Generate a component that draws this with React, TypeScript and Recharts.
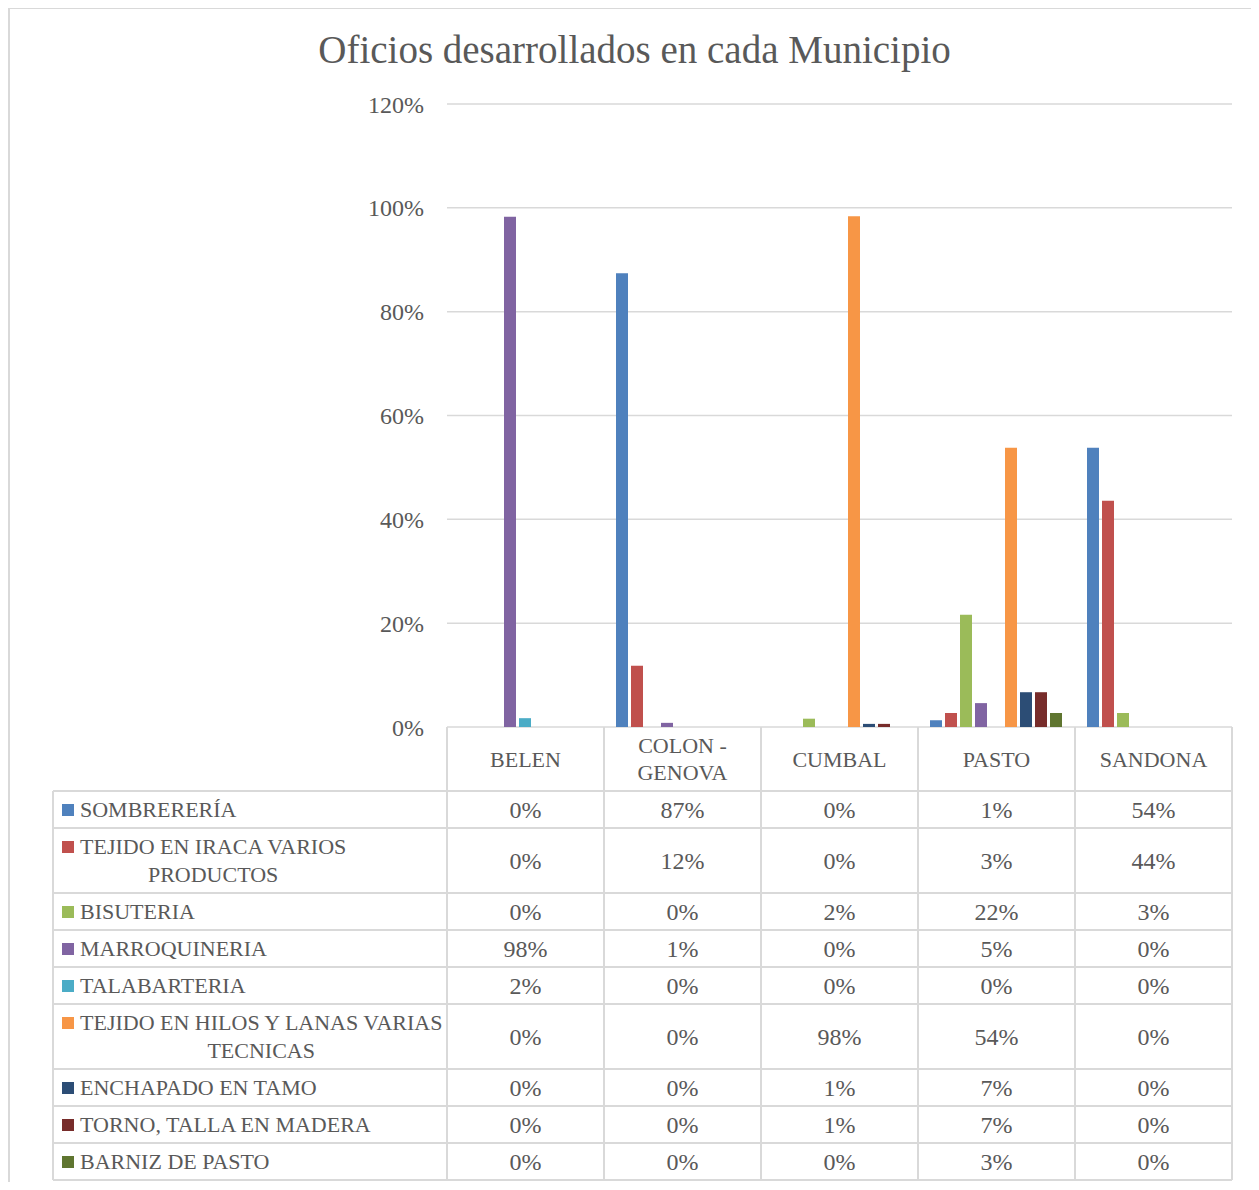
import React from 'react'
import { BarChart, Bar, XAxis, YAxis, CartesianGrid } from 'recharts'

// municipios (columns of the data table)
const MUNICIPIOS = ['BELEN', 'COLON - GENOVA', 'CUMBAL', 'PASTO', 'SANDONA']

// oficios (series / rows of the data table)
const OFICIOS = [
  'SOMBRERERÍA',
  'TEJIDO EN IRACA VARIOS PRODUCTOS',
  'BISUTERIA',
  'MARROQUINERIA',
  'TALABARTERIA',
  'TEJIDO EN HILOS Y LANAS VARIAS TECNICAS',
  'ENCHAPADO EN TAMO',
  'TORNO, TALLA EN MADERA',
  'BARNIZ DE PASTO',
]

const COLORS = [
  '#4F81BD', '#C0504D', '#9BBB59', '#8064A2', '#4BACC6',
  '#F79646', '#2C4D75', '#772C2A', '#5F7530',
]

// share of artisans per oficio, by municipio
const SOMBRERERIA = [0, 0.874, 0, 0.013, 0.538]
const TEJIDO_IRACA = [0, 0.118, 0, 0.027, 0.436]
const BISUTERIA = [0, 0, 0.016, 0.216, 0.027]
const MARROQUINERIA = [0.983, 0.008, 0, 0.046, 0]
const TALABARTERIA = [0.017, 0, 0, 0, 0]
const TEJIDO_HILOS = [0, 0, 0.984, 0.538, 0]
const ENCHAPADO = [0, 0, 0.006, 0.067, 0]
const TORNO = [0, 0, 0.006, 0.067, 0]
const BARNIZ = [0, 0, 0, 0.027, 0]

const SERIES = [
  SOMBRERERIA, TEJIDO_IRACA, BISUTERIA, MARROQUINERIA, TALABARTERIA,
  TEJIDO_HILOS, ENCHAPADO, TORNO, BARNIZ,
]

const Y_TICKS = [0, 0.2, 0.4, 0.6, 0.8, 1, 1.2]

const data = MUNICIPIOS.map((m, i) => {
  const row: Record<string, string | number> = { name: m }
  SERIES.forEach((s, k) => { row['s' + k] = s[i] })
  return row
})

// layout
const W = 1243
const H = 1175
const PLOT_L = 439
const PLOT_R = 1224
const PLOT_T = 97
const PLOT_B = 720
const HEADER_H = 64
const LEG_L = 45
const TEXT = '#595959'
const LINE = '#D9D9D9'
const FONT = "'Liberation Serif', 'Times New Roman', serif"
const FS_NUM = 24
const FS_LABEL = 22

const pct = (v: number) => Math.round(v * 100) + '%'

function wrap(text: string, maxChars: number) {
  const lines: string[] = []
  let cur = ''
  text.split(' ').forEach((w) => {
    const next = cur ? cur + ' ' + w : w
    if (next.length > maxChars && cur) {
      lines.push(cur)
      cur = w
    } else cur = next
  })
  if (cur) lines.push(cur)
  return lines
}

const LABEL_LINES = OFICIOS.map((o) => wrap(o, 30))
const ROW_H = LABEL_LINES.map((l) => (l.length > 1 ? 65 : 37))
const ROW_TOP: number[] = []
ROW_H.reduce((acc, h) => { ROW_TOP.push(acc); return acc + h }, PLOT_B + HEADER_H)
const TABLE_B = ROW_TOP[ROW_TOP.length - 1] + ROW_H[ROW_H.length - 1]

function TableColumn(props: any) {
  const { x, y, payload } = props
  const i = payload.index
  const band = (PLOT_R - PLOT_L) / MUNICIPIOS.length
  const left = x - band / 2
  const right = x + band / 2
  const head = wrap(String(payload.value), 9)
  const headMid = y + HEADER_H / 2
  return (
    <g fontFamily={FONT} fill={TEXT}>
      {i === 0 && <line x1={left} x2={left} y1={y} y2={TABLE_B} stroke={LINE} strokeWidth={2} />}
      {i === 0 && <line x1={LEG_L} x2={LEG_L} y1={ROW_TOP[0]} y2={TABLE_B} stroke={LINE} strokeWidth={2} />}
      <line x1={right} x2={right} y1={y} y2={TABLE_B} stroke={LINE} strokeWidth={2} />
      {ROW_TOP.concat([TABLE_B]).map((ty, k) => (
        <line key={'h' + k} x1={i === 0 ? LEG_L : left} x2={right} y1={ty} y2={ty} stroke={LINE} strokeWidth={2} />
      ))}
      {head.map((l, k) => (
        <text key={'t' + k} x={x} y={headMid + (k - (head.length - 1) / 2) * 27} fontSize={FS_LABEL}
          textAnchor="middle" dominantBaseline="central">{l}</text>
      ))}
      {SERIES.map((s, k) => (
        <text key={'v' + k} x={x} y={ROW_TOP[k] + ROW_H[k] / 2} fontSize={FS_NUM}
          textAnchor="middle" dominantBaseline="central">{pct(s[i])}</text>
      ))}
    </g>
  )
}

export default function App() {
  return (
    <div style={{ position: 'relative', width: W, height: H, marginTop: -1, fontFamily: FONT }}>
      <div style={{ position: 'absolute', left: 0, top: 0, width: W, height: H,
        borderTop: `2px solid ${LINE}`, borderLeft: `2px solid ${LINE}`, boxSizing: 'border-box' }} />
      <div style={{ position: 'absolute', left: 0, top: 23, width: 1253, textAlign: 'center',
        fontSize: 39, lineHeight: 1, color: TEXT }}>
        Oficios desarrollados en cada Municipio
      </div>
      <BarChart width={W} height={H} data={data}
        margin={{ top: PLOT_T, right: W - PLOT_R, bottom: 0, left: 0 }}
        barCategoryGap={12} barGap={3}>
        <CartesianGrid vertical={false} stroke={LINE} strokeWidth={1.5} />
        <YAxis domain={[0, 1.2]} ticks={Y_TICKS} width={PLOT_L} axisLine={false} tickLine={false}
          tickMargin={17} tickFormatter={pct}
          tick={{ fontFamily: FONT, fontSize: FS_NUM, fill: TEXT }} />
        <XAxis dataKey="name" height={H - PLOT_B} axisLine={false} tickLine={false}
          tickSize={0} tickMargin={0} interval={0} tick={<TableColumn />} />
        {SERIES.map((_, k) => (
          <Bar key={k} dataKey={'s' + k} fill={COLORS[k]} isAnimationActive={false} />
        ))}
      </BarChart>
      {OFICIOS.map((o, k) => (
        <div key={o} style={{ position: 'absolute', left: 54, top: ROW_TOP[k], height: ROW_H[k],
          display: 'flex', alignItems: 'center', color: TEXT, fontSize: FS_LABEL, whiteSpace: 'nowrap' }}>
          <div style={{ display: 'flex', alignItems: 'flex-start' }}>
            <span style={{ width: 12, height: 12, background: COLORS[k], marginRight: 6, marginTop: 8, flex: 'none' }} />
            <span style={{ display: 'inline-block', textAlign: 'center', lineHeight: '28px' }}>
              {LABEL_LINES[k].map((l, j) => (
                <React.Fragment key={j}>{j > 0 && <br />}{l}</React.Fragment>
              ))}
            </span>
          </div>
        </div>
      ))}
    </div>
  )
}
